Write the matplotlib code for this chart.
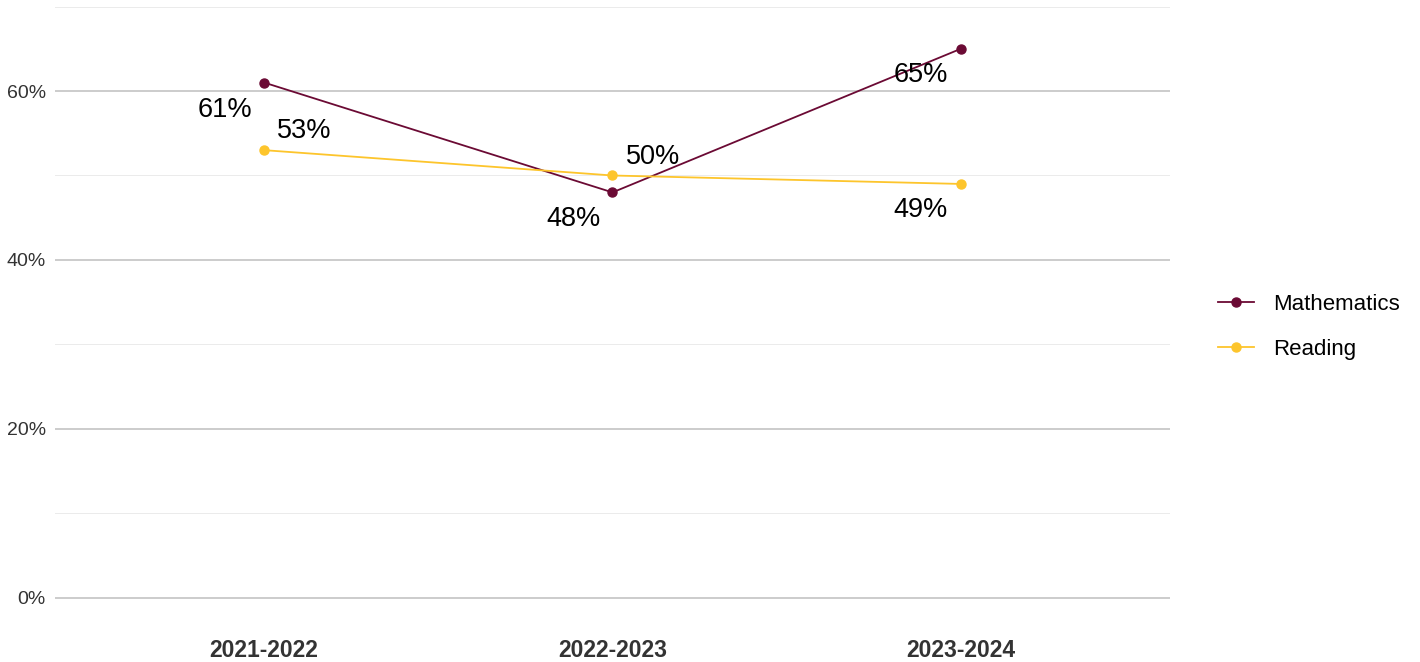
import matplotlib.pyplot as plt
from matplotlib.ticker import MultipleLocator, FuncFormatter

plt.rcParams['font.family'] = ['Liberation Sans', 'DejaVu Sans']

# Data
years = ['2021-2022', '2022-2023', '2023-2024']
math_pct = [61, 48, 65]
reading_pct = [53, 50, 49]

math_color = '#6b0a34'
reading_color = '#fdc52c'

fig = plt.figure(figsize=(14.2, 6.62), dpi=100)
ax = fig.add_axes([55 / 1420, 1 - 606 / 662, (1170 - 55) / 1420, 606 / 662])

x = list(range(1, len(years) + 1))
ax.plot(x, math_pct, color=math_color, lw=1.3, marker='o', ms=6.5, label='Mathematics', zorder=3)
ax.plot(x, reading_pct, color=reading_color, lw=1.3, marker='o', ms=6.5, label='Reading', zorder=3)

# label offsets in points (dx, dy)
math_off = [(-28, -19.5), (-28, -19.5), (-29, -19)]
read_off = [(29, 13.5), (29, 13.5), (-29, -19)]
for xi, v, o in zip(x, math_pct, math_off):
    ax.annotate(f'{v}%', (xi, v), xytext=o, textcoords='offset points',
                ha='center', va='center', fontsize=19.5, color='black', zorder=4)
for xi, v, o in zip(x, reading_pct, read_off):
    ax.annotate(f'{v}%', (xi, v), xytext=o, textcoords='offset points',
                ha='center', va='center', fontsize=19.5, color='black', zorder=4)

ax.set_xlim(0.4, 3.6)
ax.set_ylim(-0.95, 70.77)
ax.set_xticks(x)
ax.set_xticklabels(years, fontsize=16.5, fontweight='bold', color='#333333')
ax.yaxis.set_major_locator(MultipleLocator(20))
ax.yaxis.set_minor_locator(MultipleLocator(10))
ax.yaxis.set_major_formatter(FuncFormatter(lambda v, p: f'{v:.0f}%'))
ax.tick_params(axis='y', labelsize=14, labelcolor='#333333', length=0, pad=6.5)
ax.tick_params(axis='x', length=0, pad=24)
ax.tick_params(which='minor', length=0)

ax.grid(axis='y', which='major', color='#c4c4c4', lw=1.2)
ax.grid(axis='y', which='minor', color='#ebebeb', lw=0.7)
ax.set_axisbelow(True)
for s in ax.spines.values():
    s.set_visible(False)

fig.legend(loc='center left', bbox_to_anchor=(1218 / 1420, 1 - 327 / 662), frameon=False,
           fontsize=16, handlelength=1.6, labelspacing=1.1, handletextpad=0.9,
           borderpad=0, borderaxespad=0)

fig.savefig('out.png', dpi=100)
